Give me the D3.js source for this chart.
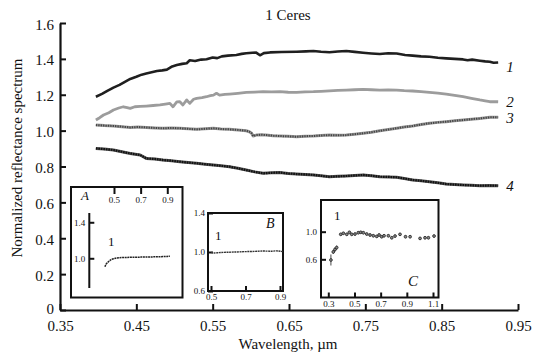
<!DOCTYPE html>
<html>
<head>
<meta charset="utf-8">
<script src="https://cdn.jsdelivr.net/npm/d3@7"></script>
<style>
  html, body { margin: 0; padding: 0; background: #fff; }
  svg { display: block; }
</style>
</head>
<body>
<script>
// ---- data -------------------------------------------------------------
const wavelengthTicks = [0.35, 0.45, 0.55, 0.65, 0.75, 0.85, 0.95];
const reflectanceTicks = [0, 0.2, 0.4, 0.6, 0.8, 1.0, 1.2, 1.4, 1.6];
const curveNames = ["1", "2", "3", "4"];

// spectrum 1
const curve1 = [
  [0.397,1.189],[0.405,1.205],[0.412,1.222],[0.420,1.240],[0.428,1.255],[0.435,1.272],
  [0.442,1.288],[0.450,1.300],[0.457,1.312],[0.463,1.318],[0.470,1.325],[0.477,1.332],
  [0.484,1.336],[0.490,1.340],[0.497,1.358],[0.503,1.366],[0.510,1.372],[0.516,1.376],
  [0.520,1.392],[0.527,1.388],[0.535,1.396],[0.542,1.398],[0.550,1.408],[0.556,1.404],
  [0.562,1.414],[0.570,1.418],[0.581,1.422],[0.588,1.428],[0.594,1.431],[0.602,1.434],
  [0.607,1.435],[0.612,1.420],[0.617,1.432],[0.625,1.436],[0.640,1.438],[0.660,1.440],
  [0.672,1.442],[0.682,1.444],[0.692,1.440],[0.703,1.437],[0.714,1.441],[0.725,1.444],
  [0.736,1.439],[0.747,1.434],[0.758,1.430],[0.769,1.427],[0.780,1.431],[0.791,1.430],
  [0.802,1.422],[0.812,1.418],[0.823,1.414],[0.834,1.412],[0.845,1.406],[0.856,1.403],
  [0.867,1.400],[0.878,1.397],[0.884,1.392],[0.890,1.396],[0.900,1.390],[0.907,1.386],
  [0.913,1.384],[0.918,1.378],[0.924,1.380]
];
// spectrum 2
const curve2 = [
  [0.397,1.059],[0.402,1.072],[0.407,1.087],[0.414,1.100],[0.420,1.115],[0.427,1.126],
  [0.433,1.133],[0.438,1.128],[0.442,1.124],[0.448,1.133],[0.455,1.135],[0.463,1.137],
  [0.472,1.140],[0.481,1.143],[0.488,1.148],[0.494,1.152],[0.498,1.133],[0.503,1.160],
  [0.507,1.161],[0.511,1.143],[0.516,1.171],[0.520,1.152],[0.525,1.175],[0.529,1.180],
  [0.536,1.184],[0.542,1.189],[0.547,1.195],[0.551,1.198],[0.555,1.208],[0.559,1.198],
  [0.566,1.202],[0.572,1.204],[0.583,1.208],[0.594,1.213],[0.605,1.215],[0.616,1.217],
  [0.627,1.216],[0.638,1.217],[0.649,1.214],[0.660,1.213],[0.671,1.216],[0.682,1.217],
  [0.692,1.219],[0.703,1.222],[0.714,1.224],[0.725,1.226],[0.736,1.228],[0.747,1.230],
  [0.758,1.228],[0.769,1.226],[0.780,1.227],[0.791,1.226],[0.801,1.223],[0.812,1.221],
  [0.823,1.217],[0.834,1.213],[0.845,1.209],[0.856,1.204],[0.867,1.197],[0.878,1.189],
  [0.889,1.180],[0.900,1.171],[0.907,1.166],[0.913,1.161],[0.918,1.162],[0.924,1.161]
];
// spectrum 3
const curve3 = [
  [0.397,1.031],[0.408,1.028],[0.420,1.026],[0.431,1.022],[0.442,1.018],[0.452,1.020],
  [0.463,1.018],[0.474,1.015],[0.485,1.013],[0.496,1.015],[0.507,1.013],[0.518,1.010],
  [0.529,1.007],[0.540,1.010],[0.551,1.013],[0.561,1.009],[0.572,1.007],[0.583,1.004],
  [0.594,0.999],[0.598,0.994],[0.601,0.985],[0.603,0.970],[0.607,0.975],[0.613,0.977],
  [0.620,0.975],[0.629,0.972],[0.638,0.970],[0.649,0.968],[0.660,0.966],[0.671,0.969],
  [0.682,0.970],[0.692,0.973],[0.703,0.975],[0.714,0.974],[0.725,0.975],[0.736,0.980],
  [0.747,0.985],[0.758,0.991],[0.769,0.999],[0.780,1.006],[0.791,1.013],[0.801,1.020],
  [0.812,1.026],[0.823,1.034],[0.834,1.041],[0.845,1.046],[0.856,1.050],[0.867,1.055],
  [0.878,1.059],[0.889,1.064],[0.900,1.068],[0.913,1.074],[0.924,1.074]
];
// spectrum 4
const curve4 = [
  [0.397,0.901],[0.408,0.897],[0.420,0.892],[0.431,0.882],[0.442,0.873],[0.455,0.864],
  [0.463,0.845],[0.474,0.842],[0.485,0.836],[0.496,0.832],[0.507,0.827],[0.518,0.822],
  [0.529,0.818],[0.540,0.813],[0.551,0.808],[0.561,0.804],[0.572,0.799],[0.583,0.790],
  [0.594,0.780],[0.605,0.770],[0.616,0.762],[0.627,0.765],[0.638,0.766],[0.649,0.761],
  [0.660,0.758],[0.671,0.756],[0.682,0.753],[0.692,0.748],[0.703,0.743],[0.714,0.745],
  [0.725,0.747],[0.736,0.750],[0.747,0.753],[0.758,0.749],[0.769,0.743],[0.780,0.742],
  [0.791,0.740],[0.801,0.733],[0.812,0.725],[0.823,0.720],[0.834,0.715],[0.845,0.709],
  [0.856,0.702],[0.867,0.699],[0.878,0.697],[0.889,0.695],[0.900,0.693],[0.912,0.694],
  [0.924,0.693]
];

// inset A: spectrum 1, short range
const insetATicksX = [0.5, 0.7, 0.9];
const insetATicksY = [1.0, 1.4];
const insetACurve = [
  [0.432,0.907],[0.437,0.925],[0.443,0.940],[0.450,0.951],[0.458,0.962],[0.466,0.972],
  [0.475,0.982],[0.485,0.989],[0.495,0.994],[0.505,0.998],[0.520,1.003],[0.540,1.006],
  [0.560,1.008],[0.600,1.010],[0.650,1.011],[0.700,1.013],[0.750,1.014],[0.800,1.016],
  [0.850,1.018],[0.900,1.020],[0.920,1.024]
];

// inset B
const insetBTicksX = [0.5, 0.7, 0.9];
const insetBTicksY = [0.6, 1.0, 1.4];
const insetBCurve = [
  [0.500,0.996],[0.520,0.990],[0.540,0.993],[0.570,0.996],[0.600,0.998],[0.650,1.000],
  [0.700,1.004],[0.750,1.006],[0.800,1.010],[0.850,1.008],[0.880,1.012],[0.917,1.004]
];

// inset C: photometric points with errors
const insetCTicksX = [0.3, 0.5, 0.7, 0.9, 1.1];
const insetCTicksY = [0.6, 1.0];
const insetCWavelength = [0.320, 0.338, 0.351, 0.364, 0.395, 0.415, 0.441, 0.461, 0.479,
  0.504, 0.529, 0.548, 0.568, 0.594, 0.619, 0.644, 0.670, 0.688, 0.708, 0.726, 0.759,
  0.785, 0.810, 0.848, 0.890, 0.925, 1.001, 1.039, 1.065, 1.108];
const insetCValue = [0.590, 0.707, 0.742, 0.770, 0.962, 0.977, 0.962, 0.991, 0.962,
  0.966, 0.985, 0.991, 0.985, 0.966, 0.952, 0.941, 0.932, 0.952, 0.927, 0.941, 0.941,
  0.912, 0.937, 0.962, 0.927, 0.927, 0.903, 0.912, 0.912, 0.937];
const insetCError = [0.080, 0.030, 0.030, 0.030, 0.020, 0.020, 0.020, 0.020, 0.020,
  0.020, 0.020, 0.020, 0.020, 0.020, 0.020, 0.020, 0.020, 0.020, 0.020, 0.020, 0.020,
  0.020, 0.020, 0.020, 0.020, 0.020, 0.020, 0.020, 0.020, 0.020];

// ---- drawing ----------------------------------------------------------
const W = 534, H = 360;
const SERIF = '"Liberation Serif"';
const svg = d3.select("body").append("svg").attr("width", W).attr("height", H);

const x = d3.scaleLinear().domain([0.35, 0.95]).range([60, 518]);
const y = d3.scaleLinear().domain([0, 1.6]).range([310, 23]);

// title
svg.append("text").attr("x", 288).attr("y", 20).attr("text-anchor", "middle")
  .attr("font-size", 15).text("1 Ceres");

// main axes
const gx = svg.append("g").attr("transform", "translate(0,310)")
  .call(d3.axisBottom(x).tickValues(wavelengthTicks).tickFormat(d3.format(".2f"))
    .tickSize(-6).tickSizeOuter(0).tickPadding(13));
const gy = svg.append("g").attr("transform", "translate(60,0)")
  .call(d3.axisLeft(y).tickValues(reflectanceTicks)
    .tickFormat(d => d === 0 ? "0" : d3.format(".1f")(d))
    .tickSize(-6).tickSizeOuter(0).tickPadding(6));
[gx, gy].forEach(g => {
  g.select(".domain").attr("stroke", "#111").attr("stroke-width", 2.2);
  g.selectAll(".tick line").attr("stroke", "#111").attr("stroke-width", 2);
  g.selectAll(".tick text").attr("font-size", 15).attr("fill", "#111");
});
gx.selectAll(".tick text").attr("dy", "0.5em");
gy.selectAll(".tick text").attr("dy", d => d === 0 ? "0.25em" : "0.4em");

// axis titles
svg.append("text").attr("x", 288).attr("y", 349).attr("text-anchor", "middle")
  .attr("font-size", 15).text("Wavelength, \u00b5m");
svg.append("text").attr("transform", "translate(22,158) rotate(-90)")
  .attr("text-anchor", "middle").attr("font-size", 15)
  .text("Normalized reflectance spectrum");

// spectra
const line = d3.line().x(d => x(d[0])).y(d => y(d[1])).curve(d3.curveLinear);
const spectra = [
  { data: curve1, layers: [{ stroke: "#1f1f1f", width: 2.6 }], labelDy: 9.5 },
  { data: curve2, layers: [{ stroke: "#9c9c9c", width: 2.8 }], labelDy: 5.5 },
  { data: curve3, layers: [{ stroke: "#999", width: 3 },
                           { stroke: "#444", width: 2, dash: "1.3 1.1" }], labelDy: 5.5 },
  { data: curve4, layers: [{ stroke: "#555", width: 3 },
                           { stroke: "#111", width: 2.2, dash: "1.6 0.9" }], labelDy: 5.5 }
];
spectra.forEach((s, i) => {
  s.layers.forEach(l => {
    svg.append("path").datum(s.data).attr("d", line)
      .attr("fill", "none").attr("stroke", l.stroke).attr("stroke-width", l.width)
      .attr("stroke-linejoin", "round").attr("stroke-dasharray", l.dash || null);
  });
  const last = s.data[s.data.length - 1];
  svg.append("text").attr("x", x(last[0]) + 8).attr("y", y(last[1]) + s.labelDy)
    .attr("font-size", 15).attr("font-style", "italic").text(curveNames[i]);
});

// helper for inset axes styling
function styleSmallAxis(g) {
  g.select(".domain").remove();
  g.selectAll(".tick line").attr("stroke", "#111").attr("stroke-width", 2);
  g.selectAll(".tick text").attr("font-size", 9).attr("fill", "#111");
}

// ---- inset A ----
const ax = d3.scaleLinear().domain([0.3, 1.0]).range([87.35, 180.6]);
const ay = d3.scaleLinear().domain([0.67, 1.503]).range([288, 213]);
svg.append("rect").attr("x", 71).attr("y", 187).attr("width", 111.5).attr("height", 110.5)
  .attr("fill", "#fff").attr("stroke", "#111").attr("stroke-width", 2);
const gax = svg.append("g").attr("transform", "translate(0,187)")
  .call(d3.axisBottom(ax).tickValues(insetATicksX).tickFormat(d3.format(".1f"))
    .tickSize(7).tickPadding(3));
styleSmallAxis(gax);
const gay = svg.append("g").attr("transform", "translate(89.3,0)")
  .call(d3.axisLeft(ay).tickValues(insetATicksY).tickFormat(d3.format(".1f"))
    .tickSize(-5).tickPadding(4));
gay.select(".domain").attr("d", `M0,${ay.range()[0]}V${ay.range()[1]}`)
  .attr("stroke", "#111").attr("stroke-width", 2);
gay.selectAll(".tick line").attr("stroke", "#111").attr("stroke-width", 2);
gay.selectAll(".tick text").attr("font-size", 9);
svg.append("path").datum(insetACurve)
  .attr("d", d3.line().x(d => ax(d[0])).y(d => ay(d[1])))
  .attr("fill", "none").attr("stroke", "#222").attr("stroke-width", 1.5)
  .attr("stroke-dasharray", "2 0.6");
svg.append("text").attr("x", 81).attr("y", 200).attr("font-size", 13)
  .attr("font-style", "italic").text("A");
svg.append("text").attr("x", 108).attr("y", 246).attr("font-size", 13).text("1");

// ---- inset B ----
const bx = d3.scaleLinear().domain([0.5, 0.9]).range([211, 280]);
const by = d3.scaleLinear().domain([0.6, 1.4]).range([291, 213]);
svg.append("rect").attr("x", 208).attr("y", 213).attr("width", 75).attr("height", 78)
  .attr("fill", "#fff").attr("stroke", "#111").attr("stroke-width", 2);
const gbx = svg.append("g").attr("transform", "translate(0,291)")
  .call(d3.axisBottom(bx).tickValues(insetBTicksX).tickFormat(d3.format(".1f"))
    .tickSize(-5).tickPadding(3));
styleSmallAxis(gbx);
const gby = svg.append("g").attr("transform", "translate(208,0)")
  .call(d3.axisLeft(by).tickValues(insetBTicksY).tickFormat(d3.format(".1f"))
    .tickSize(-5).tickPadding(3));
styleSmallAxis(gby);
svg.append("path").datum(insetBCurve)
  .attr("d", d3.line().x(d => bx(d[0])).y(d => by(d[1])))
  .attr("fill", "none").attr("stroke", "#333").attr("stroke-width", 1.4)
  .attr("stroke-dasharray", "2 0.6");
svg.append("text").attr("x", 266).attr("y", 228).attr("font-size", 14)
  .attr("font-style", "italic").text("B");
svg.append("text").attr("x", 215).attr("y", 240).attr("font-size", 13).text("1");

// ---- inset C ----
const cx = d3.scaleLinear().domain([0.3, 1.1]).range([328.3, 433]);
const cy = d3.scaleLinear().domain([0.6, 1.0]).range([259.3, 231.7]);
svg.append("rect").attr("x", 321).attr("y", 200).attr("width", 117.5).attr("height", 97.5)
  .attr("fill", "#fff").attr("stroke", "#111").attr("stroke-width", 2);
const gcx = svg.append("g").attr("transform", "translate(0,297.5)")
  .call(d3.axisBottom(cx).tickValues(insetCTicksX).tickFormat(d3.format(".1f"))
    .tickSize(-5).tickPadding(3));
styleSmallAxis(gcx);
const gcy = svg.append("g").attr("transform", "translate(321,0)")
  .call(d3.axisLeft(cy).tickValues(insetCTicksY).tickFormat(d3.format(".1f"))
    .tickSize(-5).tickPadding(4));
styleSmallAxis(gcy);
const cPoints = insetCWavelength.map((w, i) => ({ w, v: insetCValue[i], e: insetCError[i] }));
const cg = svg.append("g");
cg.selectAll("line.err").data(cPoints).join("line").attr("class", "err")
  .attr("x1", d => cx(d.w)).attr("x2", d => cx(d.w))
  .attr("y1", d => cy(d.v - d.e)).attr("y2", d => cy(d.v + d.e))
  .attr("stroke", "#333").attr("stroke-width", 0.9);
cg.selectAll("circle").data(cPoints).join("circle")
  .attr("cx", d => cx(d.w)).attr("cy", d => cy(d.v)).attr("r", 1.4)
  .attr("fill", "#888").attr("stroke", "#222").attr("stroke-width", 0.8);
svg.append("text").attr("x", 334).attr("y", 220).attr("font-size", 13).text("1");
svg.append("text").attr("x", 408).attr("y", 286).attr("font-size", 15)
  .attr("font-style", "italic").text("C");

// serif face for every label
svg.selectAll("g").attr("font-family", null);
svg.selectAll("text").style("font-family", SERIF).attr("fill", "#111");
</script>
</body>
</html>
